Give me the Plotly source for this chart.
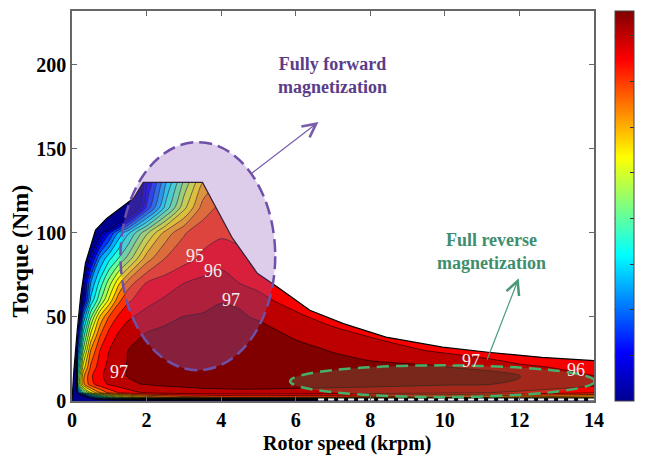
import plotly.graph_objects as go

# ---- efficiency map grid (speed in krpm, torque in Nm, efficiency in %) ----
speed_grid = [0, 0.15, 0.3, 0.5, 0.75, 1.0, 1.25, 1.5, 2.0, 2.5, 3.0, 3.5, 4.0,
              4.5, 5.0, 6.0, 7.0, 8.0, 10.0, 12.0, 14.0]
torque_grid = [0, 2, 5, 10, 15, 20, 25, 30, 40, 50, 60, 70, 85, 100, 115, 130, 140]

eff_t000 = [0, 60, 70, 75, 78, 78, 78, 78, 78, 78, 78, 78, 78, 78, 78, 78, 78, 78, 78, 78, 78]
eff_t002 = [30, 70, 78, 83, 86, 88, 89.5, 90.5, 92, 92.8, 93.2, 93.5, 93.7, 93.8, 93.8, 93.7, 93.6, 93.4, 93, 92.5, 92]
eff_t005 = [45, 83, 88, 91, 93, 94.3, 95.0, 95.5, 96.2, 96.5, 96.6, 96.7, 96.75, 96.8, 96.8, 96.75, 96.7, 96.6, 96.3, 95.8, 95.2]
eff_t010 = [55, 88.4, 92.7, 94.6, 95.6, 96.15, 96.5, 96.85, 97.06, 97.15, 97.22, 97.3, 97.3, 97.3, 97.28, 97.25, 97.22, 97.2, 97.09, 96.95, 96.25]
eff_t015 = [58, 88, 92.7, 94.8, 95.8, 96.36, 96.8, 97.04, 97.17, 97.3, 97.43, 97.55, 97.55, 97.55, 97.5, 97.45, 97.4, 97.3, 97.18, 97.02, 96.0]
eff_t020 = [60, 86.5, 91.4, 94.15, 95.6, 96.3, 96.8, 97.05, 97.2, 97.4, 97.55, 97.7, 97.7, 97.7, 97.65, 97.6, 97.45, 97.25, 97.08, 96.2, 95.7]
eff_t025 = [60, 85.4, 90.45, 93.67, 95.3, 96.16, 96.66, 97.03, 97.2, 97.39, 97.57, 97.75, 97.75, 97.72, 97.68, 97.5, 97.2, 96.93, 96.47, 95.7, 95.2]
eff_t030 = [60, 83.9, 89.15, 93.0, 95.0, 96.0, 96.5, 97.0, 97.2, 97.4, 97.6, 97.8, 97.8, 97.75, 97.7, 97.35, 96.94, 96.57, 95.8, 95.1, 94.8]
eff_t040 = [60, 81.9, 87.2, 91.0, 93.84, 95.33, 96.08, 96.5, 97.06, 97.23, 97.39, 97.55, 97.53, 97.5, 97.42, 96.8, 96.3, 95.85, 95.2, 95.0, 94.8]
eff_t050 = [60, 78.5, 85.0, 88.75, 92.15, 94.1, 95.2, 95.85, 96.35, 96.76, 97.03, 97.12, 97.2, 97.13, 96.88, 96.2, 95.6, 95.3, 95.15, 95.0, 94.8]
eff_t060 = [58, 72.4, 81.5, 86.2, 88.8, 91.3, 93.7, 94.8, 95.7, 96.14, 96.38, 96.62, 96.95, 96.85, 96.25, 95.6, 95.3, 95.2, 95.1, 95.0, 94.9]
eff_t070 = [56, 68.5, 81.0, 85.0, 87.4, 89.6, 91.8, 93.5, 95.1, 95.5, 96.0, 96.3, 96.6, 96.0, 95.77, 95.4, 95.3, 95.2, 95.1, 95.0, 94.9]
eff_t085 = [55, 65.5, 76.0, 81.4, 85.0, 86.7, 88.0, 89.3, 92.5, 94.0, 94.6, 95.17, 95.5, 95.4, 95.1, 94.9, 94.85, 94.8, 94.8, 94.7, 94.7]
eff_t100 = [55, 62, 69, 78, 80.3, 82.84, 85.3, 86.8, 89.8, 92.38, 93.9, 94.6, 94.85, 94.6, 94.4, 94.3, 94.2, 94.2, 94.2, 94.2, 94.2]
eff_t115 = [52, 54.6, 57.2, 61, 65, 69.5, 74, 77.5, 83.2, 87.25, 90.67, 93.4, 94.3, 94.3, 94.2, 94.0, 94.0, 94.0, 94.0, 94.0, 94.0]
eff_t130 = [50, 53, 56, 60, 64, 68, 72, 76, 81.8, 85.8, 89.2, 92.0, 93.3, 93.8, 94.0, 93.8, 93.8, 93.8, 93.8, 93.8, 93.8]
eff_t140 = [48, 51, 54, 58, 62, 66, 70, 74, 79.5, 84, 87.5, 90.5, 92, 92.8, 93, 93, 93, 93, 93, 93, 93]

efficiency = [eff_t000, eff_t002, eff_t005, eff_t010, eff_t015, eff_t020, eff_t025,
              eff_t030, eff_t040, eff_t050, eff_t060, eff_t070, eff_t085, eff_t100,
              eff_t115, eff_t130, eff_t140]

# operating envelope (maximum torque vs speed)
env_speed = [0.0, 0.05, 0.14, 0.23, 0.36, 0.5, 0.63, 0.93, 1.3, 1.65, 1.91, 3.5,
             4.3, 4.97, 5.5, 6.38, 7.28, 8.42, 9.94, 11.16, 12.6, 14.0]
env_torque = [0, 18, 42, 62, 82, 92, 101.7, 108.6, 114.6, 120.6, 130, 130,
              97, 76, 68, 54, 46, 38, 32, 29, 26, 24]

# efficiency contour levels
level_start, level_end, level_step = 81, 97, 1

# contour label texts and their places (speed, torque)
label_levels = [95, 96, 97, 97, 97, 96]
label_speed = [3.31, 3.78, 4.26, 1.27, 10.7, 13.52]
label_torque = [86.5, 77.3, 60.2, 17.1, 24.0, 18.3]

# zero-torque reference line in the high-speed range
zero_line_speed = [6.6, 14.0]
zero_line_torque = [0.9, 0.9]

# magnetization regions (ellipse bounds) and pointer arrows
fwd_box = dict(x0=1.30, x1=5.45, y0=18.3, y1=154.0)
rev_box = dict(x0=5.85, x1=14.02, y0=2.4, y1=21.2)
fwd_arrow = dict(tail=(4.76, 134.5), head=(6.61, 166.0))
rev_arrow = dict(tail=(11.12, 23.8), head=(11.98, 73.0))
fwd_text_pos = (6.98, 193.5)
rev_text_pos = (11.24, 89.0)

cbar_ticks = [1, 2, 3, 4, 5, 6, 7, 8]
cbar_max = 8.54

jet = [[0.0, 'rgb(0,0,143)'], [0.125, 'rgb(0,0,255)'], [0.375, 'rgb(0,255,255)'],
       [0.625, 'rgb(255,255,0)'], [0.875, 'rgb(255,0,0)'], [1.0, 'rgb(128,0,0)']]

SERIF = 'Liberation Serif'

fig = go.Figure()

fig.add_trace(go.Contour(
    x=speed_grid, y=torque_grid, z=efficiency,
    contours=dict(start=level_start, end=level_end, size=level_step,
                  coloring='fill', showlabels=False),
    line=dict(color='black', width=0.6, smoothing=0.8),
    colorscale=jet, showscale=False, hoverinfo='skip'))

# blank out everything outside the operating envelope
mask_x = [-1] + env_speed + [15, 15, -1]
mask_y = [0] + env_torque + [env_torque[-1], 260, 260]
fig.add_trace(go.Scatter(x=mask_x, y=mask_y, fill='toself', fillcolor='white',
                         mode='lines', line=dict(width=0), hoverinfo='skip',
                         showlegend=False))
fig.add_trace(go.Scatter(x=env_speed, y=env_torque, mode='lines',
                         line=dict(color='black', width=1.2), hoverinfo='skip',
                         showlegend=False))
fig.add_trace(go.Scatter(x=zero_line_speed, y=zero_line_torque, mode='lines',
                         line=dict(color='white', width=2, dash='6px,4px'),
                         hoverinfo='skip', showlegend=False))

# colour bar (continuous jet)
cb_x = (622 - 72) / 529
fig.add_trace(go.Scatter(
    x=[-5], y=[-5], mode='markers', hoverinfo='skip', showlegend=False,
    marker=dict(color=[0], colorscale=jet, cmin=0, cmax=cbar_max, showscale=True,
                colorbar=dict(x=cb_x, xanchor='left', xpad=0, ypad=0, y=0.5,
                              yanchor='middle', len=1.0, thickness=19,
                              outlinewidth=1, outlinecolor='#444',
                              ticks='inside', ticklen=4, tickwidth=1,
                              tickcolor='#333', tickvals=cbar_ticks,
                              showticklabels=False))))

shapes = []
shapes.append(dict(type='circle', xref='x', yref='y', **fwd_box,
                   fillcolor='rgba(150,100,190,0.32)',
                   line=dict(color='#6E50AA', width=2.5, dash='13px,6px')))
shapes.append(dict(type='circle', xref='x', yref='y', **rev_box,
                   fillcolor='rgba(110,130,90,0.3)',
                   line=dict(color='#45B06A', width=2.5, dash='12px,7px')))
for v in cbar_ticks:
    yv = v / cbar_max
    shapes.append(dict(type='line', xref='paper', yref='paper',
                       x0=cb_x, x1=cb_x + 4 / 529, y0=yv, y1=yv,
                       line=dict(color='#333', width=1)))

annotations = []
for lv, sx, ty in zip(label_levels, label_speed, label_torque):
    annotations.append(dict(x=sx, y=ty, xref='x', yref='y', text=str(lv),
                            showarrow=False,
                            font=dict(family=SERIF, size=18, color='#F4ECEC')))

annotations.append(dict(x=fwd_arrow['head'][0], y=fwd_arrow['head'][1],
                        ax=fwd_arrow['tail'][0], ay=fwd_arrow['tail'][1],
                        xref='x', yref='y', axref='x', ayref='y', text='',
                        showarrow=True, arrowhead=5, arrowsize=2.2,
                        arrowwidth=1.2, arrowcolor='#7A5CAA'))
annotations.append(dict(x=rev_arrow['head'][0], y=rev_arrow['head'][1],
                        ax=rev_arrow['tail'][0], ay=rev_arrow['tail'][1],
                        xref='x', yref='y', axref='x', ayref='y', text='',
                        showarrow=True, arrowhead=5, arrowsize=2.2,
                        arrowwidth=1.2, arrowcolor='#4A9A7A'))
annotations.append(dict(x=fwd_text_pos[0], y=fwd_text_pos[1], xref='x', yref='y',
                        text='Fully forward<br>magnetization', showarrow=False,
                        font=dict(family=SERIF, size=18, color='#5A3D8A', weight='bold')))
annotations.append(dict(x=rev_text_pos[0], y=rev_text_pos[1], xref='x', yref='y',
                        text='Full reverse<br>magnetization', showarrow=False,
                        font=dict(family=SERIF, size=18, color='#3E8E6E', weight='bold')))
# axis titles
annotations.append(dict(x=(351 - 72) / 529, y=(401 - 444) / 392, xref='paper', yref='paper',
                        text='Rotor speed (krpm)', showarrow=False,
                        xanchor='center', yanchor='middle',
                        font=dict(family=SERIF, size=20, color='black', weight='bold')))
annotations.append(dict(x=(19 - 72) / 529, y=(401 - 250) / 392, xref='paper', yref='paper',
                        text='Torque (Nm)', showarrow=False, textangle=-90,
                        xanchor='center', yanchor='middle',
                        font=dict(family=SERIF, size=24, color='black', weight='bold')))

axis_common = dict(showgrid=False, zeroline=False, showline=True, mirror='ticks',
                   linecolor='#666', linewidth=1.5, ticks='inside', ticklen=5,
                   tickcolor='#666', tickfont=dict(family=SERIF, size=20,
                                                   color='black', weight='bold'))

fig.update_layout(
    width=648, height=457, margin=dict(l=72, r=47, t=9, b=56),
    paper_bgcolor='white', plot_bgcolor='white', showlegend=False,
    xaxis=dict(range=[0, 14], tickvals=[0, 2, 4, 6, 8, 10, 12, 14], **axis_common),
    yaxis=dict(range=[0, 232], tickvals=[0, 50, 100, 150, 200], **axis_common),
    shapes=shapes, annotations=annotations)

fig.write_html('out.html')
